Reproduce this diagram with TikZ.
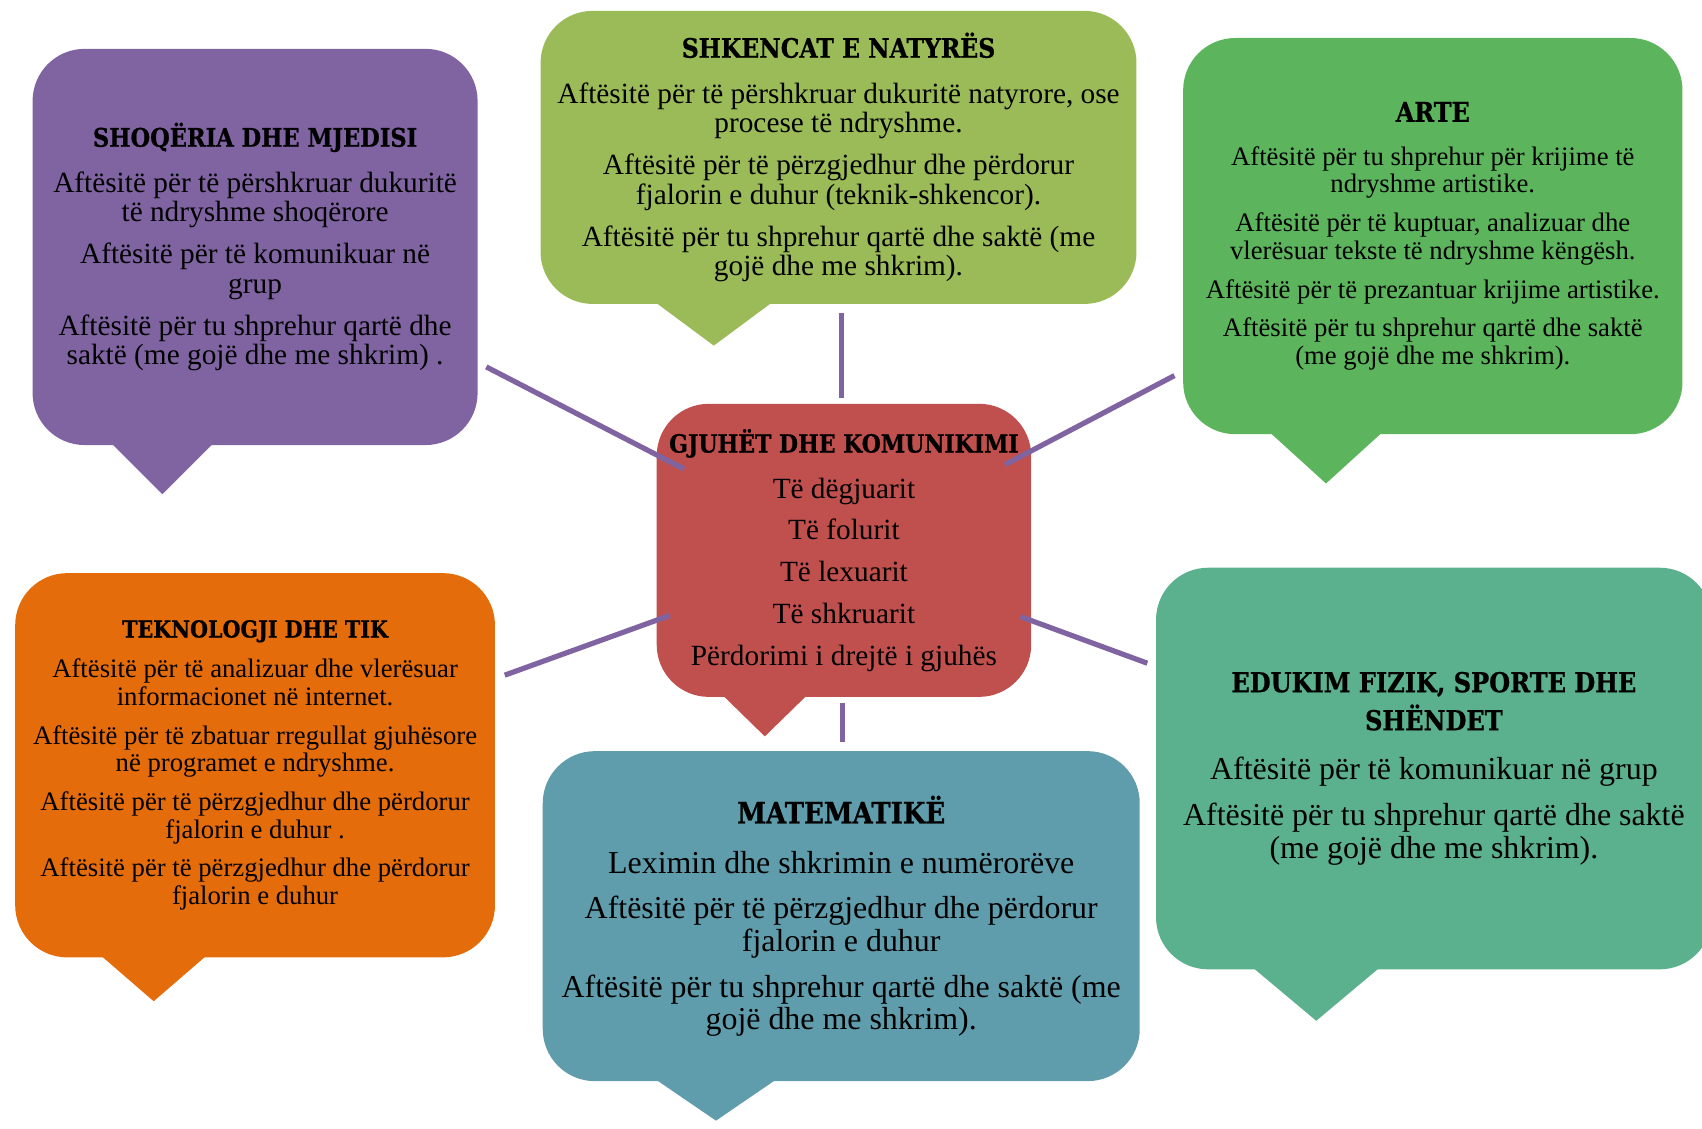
\documentclass[tikz,border=0pt]{standalone}
\usepackage{fontspec}
\setmainfont{Liberation Serif}
\newfontfamily\titlefont{DejaVu Serif Bold}[FakeStretch=0.88, FakeBold=0.8]
\usepackage{xcolor}
\usetikzlibrary{calc}

\definecolor{shoqcol}{RGB}{128,100,162}
\definecolor{shkenccol}{RGB}{155,187,89}
\definecolor{artecol}{RGB}{92,181,92}
\definecolor{gjuhcol}{RGB}{192,80,77}
\definecolor{tekncol}{RGB}{228,108,10}
\definecolor{matcol}{RGB}{96,157,172}
\definecolor{edukcol}{RGB}{91,176,142}
\definecolor{linkcol}{RGB}{128,100,162}

\begin{document}
\begin{tikzpicture}[
    x=0.5pt, y=-0.5pt, % one unit per pixel, y runs downwards
    bubble/.style={fill=#1, rounded corners=24pt, align=center, inner sep=0pt}, % body of a speech bubble
    smalltext/.style={font=\fontsize{12.3}{12.8}\selectfont},
    midtext/.style={font=\fontsize{13.5}{13.5}\selectfont},
    bigtext/.style={font=\fontsize{14.7}{15}\selectfont},
    link/.style={draw=linkcol, line width=2.4pt} % connectors to the centre
]
\useasboundingbox (0,0) rectangle (1568,1040);

\node[bubble=shoqcol, midtext, minimum width=205pt, minimum height=182.5pt] (shoq) at (235,227.5) {%
    {\titlefont\fontsize{11.8}{12}\selectfont SHOQËRIA DHE MJEDISI}\\[7.5pt]
    Aftësitë për të përshkruar dukuritë\\ të ndryshme shoqërore\\[6pt]
    Aftësitë për të komunikuar në\\ grup\\[6pt]
    Aftësitë për tu shprehur qartë dhe\\ saktë (me gojë dhe me shkrim) .};
\fill[shoqcol] ($(shoq.south west)+(70,-5)$) -- ($(shoq.south west)+(120,45)$) -- ($(shoq.south west)+(170,-5)$) -- cycle;

\node[bubble=shkenccol, midtext, minimum width=274.5pt, minimum height=135pt] (shkenc) at (772.5,145) {%
    {\titlefont\fontsize{12.3}{12}\selectfont SHKENCAT E NATYRËS}\\[7.5pt]
    Aftësitë për të  përshkruar dukuritë natyrore, ose\\ procese të ndryshme.\\[6pt]
    Aftësitë për të  përzgjedhur  dhe përdorur\\ fjalorin e duhur (teknik-shkencor).\\[6pt]
    Aftësitë për tu shprehur qartë dhe saktë (me\\ gojë dhe me shkrim).};
\fill[shkenccol] ($(shkenc.south west)+(102,-5)$) -- ($(shkenc.south west)+(160,38)$) -- ($(shkenc.south west)+(218,-5)$) -- cycle;

\node[bubble=artecol, smalltext, minimum width=230pt, minimum height=182.5pt] (arte) at (1320,217.5) {%
    {\titlefont\fontsize{12.5}{12}\selectfont ARTE}\\[7.2pt]
    Aftësitë  për tu shprehur për krijime të\\ ndryshme artistike.\\[5pt]
    Aftësitë për të kuptuar, analizuar dhe\\ vlerësuar tekste të ndryshme këngësh.\\[5pt]
    Aftësitë për të prezantuar krijime artistike.\\[5pt]
    Aftësitë për tu shprehur qartë dhe saktë\\ (me gojë dhe me shkrim).};
\fill[artecol] ($(arte.south west)+(77,-5)$) -- ($(arte.south west)+(132,45)$) -- ($(arte.south west)+(187,-5)$) -- cycle;

\node[bubble=gjuhcol, midtext, minimum width=172.5pt, minimum height=135pt] (gjuh) at (777.5,507) {%
    {\titlefont\fontsize{11.5}{12}\selectfont GJUHËT DHE KOMUNIKIMI}\\[7.5pt]
    Të dëgjuarit\\[5.75pt]
    Të folurit\\[5.75pt]
    Të lexuarit\\[5.75pt]
    Të shkruarit\\[5.75pt]
    Përdorimi i drejtë i gjuhës};
\fill[gjuhcol] ($(gjuh.south west)+(58,-5)$) -- ($(gjuh.south west)+(100,36)$) -- ($(gjuh.south west)+(142,-5)$) -- cycle;

\node[bubble=tekncol, smalltext, minimum width=221pt, minimum height=177pt] (tekn) at (235,705) {%
    {\titlefont\fontsize{10.8}{12}\selectfont TEKNOLOGJI DHE TIK}\\[5.7pt]
    Aftësitë për të analizuar dhe vlerësuar\\ informacionet në internet.\\[5pt]
    Aftësitë për të zbatuar rregullat gjuhësore\\ në programet e ndryshme.\\[5pt]
    Aftësitë për të përzgjedhur  dhe përdorur\\ fjalorin e duhur .\\[5pt]
    Aftësitë për të përzgjedhur  dhe përdorur\\ fjalorin e duhur};
\fill[tekncol] ($(tekn.south west)+(76,-5)$) -- ($(tekn.south west)+(128,40)$) -- ($(tekn.south west)+(180,-5)$) -- cycle;

\node[bubble=matcol, bigtext, minimum width=275pt, minimum height=152pt] (mat) at (775,844) {%
    {\titlefont\fontsize{13.6}{12}\selectfont MATEMATIKË}\\[8pt]
    Leximin dhe shkrimin e numërorëve\\[6pt]
    Aftësitë për të përzgjedhur  dhe përdorur\\ fjalorin e duhur\\[6pt]
    Aftësitë për tu shprehur qartë dhe saktë (me\\ gojë dhe me shkrim).};
\fill[matcol] ($(mat.south west)+(100,-5)$) -- ($(mat.south west)+(160,36)$) -- ($(mat.south west)+(220,-5)$) -- cycle;

\node[bubble=edukcol, bigtext, minimum width=256pt, minimum height=185pt] (eduk) at (1321,708) {%
    {\titlefont\fontsize{12.6}{12}\selectfont EDUKIM FIZIK, SPORTE DHE}\\[2.5pt]
    {\titlefont\fontsize{12.6}{12}\selectfont SHËNDET}\\[7.5pt]
    Aftësitë për të komunikuar në grup\\[6.5pt]
    Aftësitë për tu shprehur qartë dhe saktë\\ (me gojë dhe me shkrim).};
\fill[edukcol] ($(eduk.south west)+(86,-5)$) -- ($(eduk.south west)+(148,47)$) -- ($(eduk.south west)+(210,-5)$) -- cycle;

% loose ends of the connectors
\coordinate (shoq-out) at (448,338);
\coordinate (gjuh-nw) at (630,432);
\coordinate (shkenc-out) at (775,288);
\coordinate (gjuh-n) at (775,367);
\coordinate (arte-out) at (1082,346);
\coordinate (gjuh-ne) at (926,428);
\coordinate (tekn-out) at (465,622);
\coordinate (gjuh-sw) at (617,567);
\coordinate (eduk-out) at (1057,611);
\coordinate (gjuh-se) at (940,568);
\coordinate (gjuh-s) at (776,648);
\coordinate (mat-out) at (776,684);

\draw[link] (shoq-out) -- (gjuh-nw);
\draw[link] (shkenc-out) -- (gjuh-n);
\draw[link] (arte-out) -- (gjuh-ne);
\draw[link] (tekn-out) -- (gjuh-sw);
\draw[link] (eduk-out) -- (gjuh-se);
\draw[link] (gjuh-s) -- (mat-out);
\end{tikzpicture}
\end{document}
